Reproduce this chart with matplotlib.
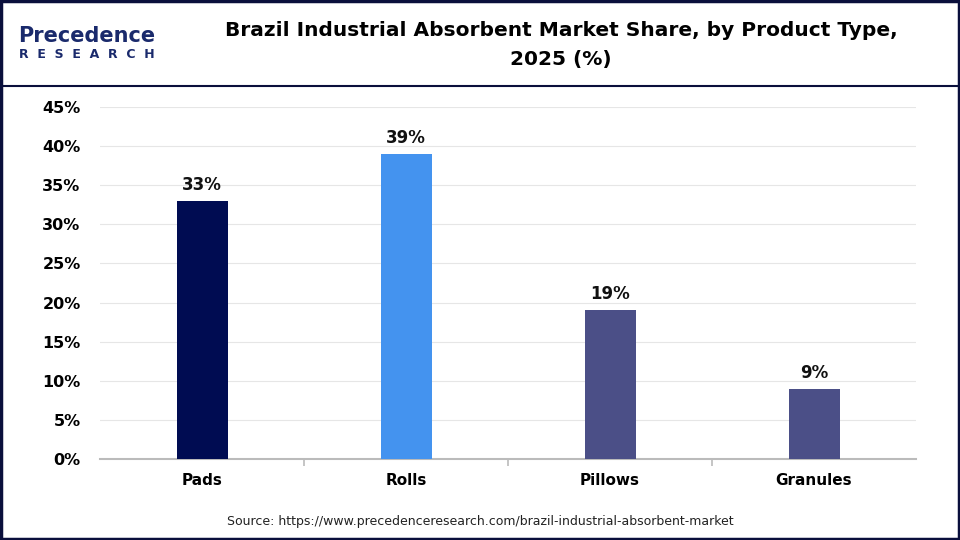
import matplotlib.pyplot as plt
from matplotlib.patches import Rectangle
from matplotlib.lines import Line2D

categories = ["Pads", "Rolls", "Pillows", "Granules"]
shares = [33, 39, 19, 9]
colors = ["#000C52", "#4493EF", "#4B4F87", "#4B4F87"]
yticks = [0, 5, 10, 15, 20, 25, 30, 35, 40, 45]

fig = plt.figure(figsize=(9.6, 5.4), dpi=100)
ax = fig.add_axes([100/960, 1 - 459/540, 816/960, 352/540])

x = range(len(categories))
ax.bar(x, shares, width=0.25, color=colors, zorder=3)
for i, v in enumerate(shares):
    ax.text(i, v + 0.9, f"{v}%", ha="center", va="bottom", fontsize=12,
            fontweight="bold", color="#111111")

ax.set_xlim(-0.5, 3.5)
ax.set_ylim(0, 45)
ax.set_yticks(yticks)
ax.set_yticklabels([f"{t}%" for t in yticks], fontsize=11.5, fontweight="bold")
ax.set_xticks(list(x))
ax.set_xticklabels(categories, fontsize=11, fontweight="bold")
ax.tick_params(axis="x", length=0, pad=10)
ax.tick_params(axis="y", length=0, pad=14)
# separators between categories
ax.set_xticks([0.5, 1.5, 2.5], minor=True)
ax.tick_params(axis="x", which="minor", length=5, color="#bbbbbb", width=1.2)
ax.grid(axis="y", color="#e6e6e6", linewidth=0.8, zorder=0)
for s in ["top", "right", "left"]:
    ax.spines[s].set_visible(False)
ax.spines["bottom"].set_color("#bbbbbb")
ax.spines["bottom"].set_linewidth(1.5)

# header
fig.text(561/960, 1 - 30/540, "Brazil Industrial Absorbent Market Share, by Product Type,",
         ha="center", va="center", fontsize=14.5, fontweight="bold")
fig.text(561/960, 1 - 60/540, "2025 (%)", ha="center", va="center",
         fontsize=14.5, fontweight="bold")
fig.text(18/960, 1 - 36/540, "Precedence", ha="left", va="center", fontsize=15,
         color="#1a2a6c", fontweight="bold")
fig.text(19/960, 1 - 55/540, "R  E  S  E  A  R  C  H", ha="left", va="center", fontsize=9,
         color="#1a2a6c", fontweight="bold")
fig.add_artist(Line2D([0, 1], [1 - 86/540, 1 - 86/540], color="#0a0f3c", linewidth=1.5))

fig.text(480/960, 1 - 521/540,
         "Source: https://www.precedenceresearch.com/brazil-industrial-absorbent-market",
         ha="center", va="center", fontsize=9, color="#222222")

fig.add_artist(Rectangle((0.001, 0.002), 0.998, 0.996, transform=fig.transFigure,
                         fill=False, edgecolor="#0a0f3c", linewidth=2.5))

fig.savefig("out.png", dpi=100)
